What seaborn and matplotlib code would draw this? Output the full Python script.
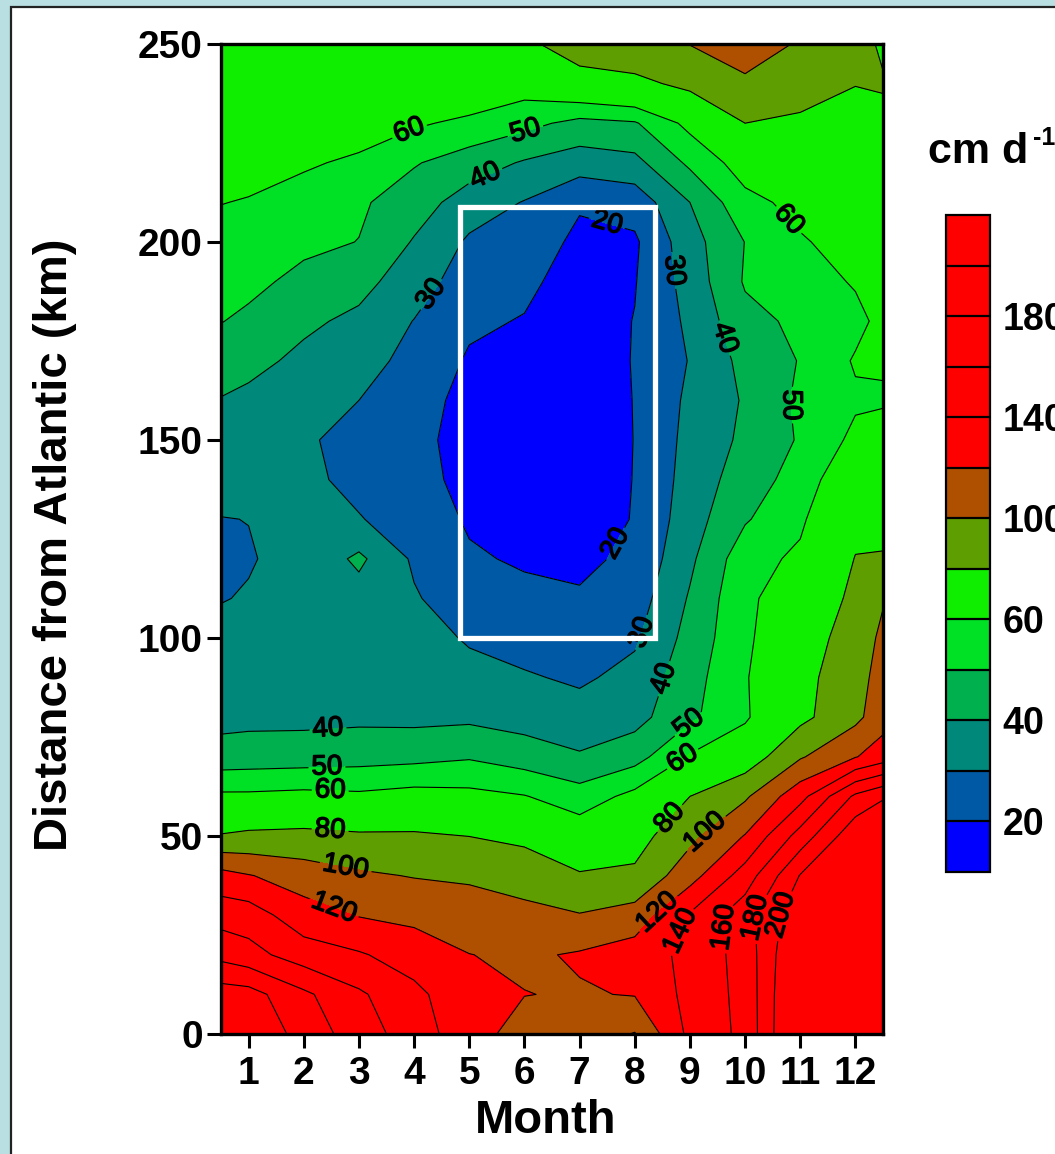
import numpy as np
import matplotlib
matplotlib.use("Agg")
import matplotlib.pyplot as plt
import matplotlib.patheffects as pe
from matplotlib.patches import Rectangle
import seaborn as sns

# ---------------- data ----------------
months = [0.5, 1, 2, 3, 4, 5, 6, 7, 8, 9, 10, 11, 12, 12.5]
distance_km = [0, 10, 20, 30, 40, 50, 60, 70, 80, 90, 100, 110, 120,
               130, 140, 150, 160, 170, 180, 190, 200, 210, 220, 230, 240, 250]

# rate (cm d-1) per month column, from 0 km up to 250 km
rate_m00_5 = [220, 210, 174, 152, 127, 81, 62, 44, 37, 35, 32, 29.7, 28,
              29.8, 33, 36, 39.5, 45, 50.3, 53.5, 57, 60.2, 63, 67, 70, 72]
rate_m01 = [218, 208, 167, 150, 121, 83, 62, 44.5, 37.5, 36, 33, 30.5, 29.5,
            30.1, 32.5, 35, 38, 42.5, 48, 52.5, 56.5, 59.5, 63, 66, 70, 73]
rate_m02 = [192, 184, 150, 128, 111, 84, 63, 45, 37.5, 35.5, 34, 33, 32.5,
            33, 32.5, 31, 33, 38, 41.7, 47.3, 52.3, 56.8, 61, 67, 71, 74]
rate_m03 = [170, 163, 142, 119, 103, 82, 62, 46, 38, 36, 35, 36, 42,
            30.6, 27, 27.5, 30, 35, 38, 43, 49.8, 51.5, 58.6, 64, 70, 74]
rate_m04 = [150, 145, 131, 115, 99, 82, 64, 47, 37.5, 36, 34, 31, 28.5,
            25, 23.5, 23, 24, 26, 29.7, 35, 39.2, 44.7, 50.8, 61.5, 70, 78]
rate_m05 = [128, 126, 120.3, 110, 97, 79.8, 63, 49, 38, 33, 29, 24, 21,
            19, 17, 16, 17, 19, 21.5, 24.5, 28.5, 35.3, 45, 57.5, 70, 75]
rate_m06 = [112, 120.4, 117, 104.5, 93, 75, 60.5, 45, 36, 31, 26, 22, 19,
            17, 16, 15.5, 16, 17, 19.5, 22, 25, 29.5, 39, 53, 65, 76]
rate_m07 = [110, 118.5, 122, 101, 81.5, 66.5, 54.4, 41, 34, 28.5, 25, 21, 18,
            15.5, 14.5, 14, 14, 14.5, 15, 16, 18, 21, 35, 47, 72, 90]
rate_m08 = [99, 121, 130, 108, 83.5, 72, 63, 46, 36.5, 33, 28.5, 25, 22,
            20.5, 20.3, 20.2, 20.3, 20.5, 20.3, 19.5, 18.5, 24, 37, 49, 76, 92]
rate_m09 = [145, 146, 145, 142, 112, 95, 80, 61, 48, 46, 43.5, 41, 38,
            35.5, 34, 33, 32, 30.5, 32, 34, 36, 40, 52, 63, 84, 100.5]
rate_m10 = [165, 166, 168, 172, 149, 121, 97, 68, 58.5, 59, 58, 58, 56,
            49, 45, 42, 41, 43, 47, 51, 50.2, 57, 65, 80, 95, 115]
rate_m11 = [232, 230, 225, 215, 201, 168, 133, 98, 75, 74, 70, 66, 62,
            58, 54, 51, 52, 50.5, 52, 55, 59, 63, 70, 77, 88, 97]
rate_m12 = [240, 240, 240, 235, 228, 215, 184, 119, 95, 92, 89, 84, 80.5,
            76, 70, 62.5, 58.5, 61, 57, 61, 64, 68, 72, 76, 80.3, 85]
rate_m12_5 = [248, 248, 248, 245, 240, 230, 197, 130, 112, 108, 104, 98.5, 81,
              76, 70, 64, 59, 61, 63, 65, 67, 70, 73, 77, 81, 78]

levels = [0, 20, 30, 40, 50, 60, 80, 100, 120, 140, 160, 180, 200, 260]
level_colors = ["#0000FF", "#0059A5", "#00887A", "#00B04E", "#00E024",
                "#10EE00", "#5E9E00", "#AE5000", "#FF0000", "#FF0000",
                "#FF0000", "#FF0000", "#FF0000"]
cbar_ticks = [20, 40, 60, 100, 140, 180]
month_ticks = list(range(1, 13))
distance_ticks = [0, 50, 100, 150, 200, 250]

# contour-label anchor points (month, km)
label_points = [(3.93, 227.5), (6.01, 228.3), (5.29, 216.7), (7.59, 209.3),
                (4.38, 186.1), (8.78, 192.9), (10.63, 203.5), (9.69, 176),
                (10.81, 158.8), (7.86, 122.2), (8.1, 101.5), (8.6, 89.4),
                (9.0, 78), (8.82, 70.5), (8.67, 54), (9.27, 51),
                (2.44, 76.8), (2.42, 67.9), (2.48, 61.6), (2.48, 52),
                (2.75, 41.4), (2.57, 32.6), (8.37, 31.3), (8.77, 26.3),
                (9.51, 26.8), (10.12, 29.3), (10.41, 30.8)]

# highlighted window (month range, km range)
box_months = (4.83, 8.37)
box_km = (100, 208.8)

# ---------------- figure ----------------
sns.set_style("ticks")
plt.rcParams["font.family"] = ["Liberation Sans", "DejaVu Sans"]
plt.rcParams.update({"text.color": "black", "axes.labelcolor": "black",
                     "xtick.color": "black", "ytick.color": "black"})

Z = np.column_stack([rate_m00_5, rate_m01, rate_m02, rate_m03, rate_m04,
                     rate_m05, rate_m06, rate_m07, rate_m08, rate_m09,
                     rate_m10, rate_m11, rate_m12, rate_m12_5])
X, Y = np.meshgrid(months, distance_km)

fig = plt.figure(figsize=(10.55, 11.54), dpi=100)
fig.patch.set_facecolor("#B9DFE3")
panel = Rectangle((11 / 1055, -0.02), 1.2, 1.02 - 7 / 1154,
                  transform=fig.transFigure, facecolor="white",
                  edgecolor="#222222", linewidth=1.6, zorder=-5)
fig.patches.append(panel)

ax = fig.add_axes([221 / 1055, 1 - 1034 / 1154, 662 / 1055, 990 / 1154])
cf = ax.contourf(X, Y, Z, levels=levels, colors=level_colors)
cs = ax.contour(X, Y, Z, levels=levels[1:-1], colors="black", linewidths=0.8)
texts = ax.clabel(cs, levels=levels[1:-1], fmt="%d", fontsize=20, inline=True,
                  inline_spacing=3, manual=label_points, colors="black")
for t in texts:
    t.set_path_effects([pe.withStroke(linewidth=1.0, foreground="black")])

ax.add_patch(Rectangle((box_months[0], box_km[0]),
                       box_months[1] - box_months[0], box_km[1] - box_km[0],
                       fill=False, edgecolor="white", linewidth=3.8, zorder=5))

ax.set_xlim(0.5, 12.5)
ax.set_ylim(0, 250)
ax.set_xticks(month_ticks)
ax.set_yticks(distance_ticks)
for s in ax.spines.values():
    s.set_linewidth(2.4)
    s.set_color("black")
ax.tick_params(axis="both", direction="out", length=10, width=2.2,
               labelsize=28, colors="black")
ax.tick_params(axis="x", pad=6)
ax.tick_params(axis="y", pad=3)
for lab in ax.get_xticklabels() + ax.get_yticklabels():
    lab.set_fontweight("bold")

ax.set_xlabel("Month", fontsize=34, fontweight="bold", color="black")
ax.set_ylabel("Distance from Atlantic (km)", fontsize=34, fontweight="bold",
              color="black")
ax.xaxis.set_label_coords(0.491, -0.066)
ax.yaxis.set_label_coords(-0.218, 0.494)

# colorbar
cax = fig.add_axes([946 / 1055, 1 - 872 / 1154, 44 / 1055, 657 / 1154])
cbar = fig.colorbar(cf, cax=cax, ticks=cbar_ticks, drawedges=True)
cbar.outline.set_linewidth(1.6)
cbar.outline.set_edgecolor("black")
cbar.dividers.set_color("black")
cbar.dividers.set_linewidth(1.6)
cax.tick_params(length=0, pad=9, labelsize=27, colors="black")
for lab in cax.get_yticklabels():
    lab.set_fontweight("bold")

fig.text(928 / 1055, 1 - 163 / 1154, "cm d", fontsize=31, fontweight="bold",
         ha="left", va="baseline", color="black")
fig.text(1033 / 1055, 1 - 145 / 1154, "-1", fontsize=18, fontweight="bold",
         ha="left", va="baseline", color="black")

fig.savefig("out.png", dpi=100, facecolor=fig.get_facecolor())
